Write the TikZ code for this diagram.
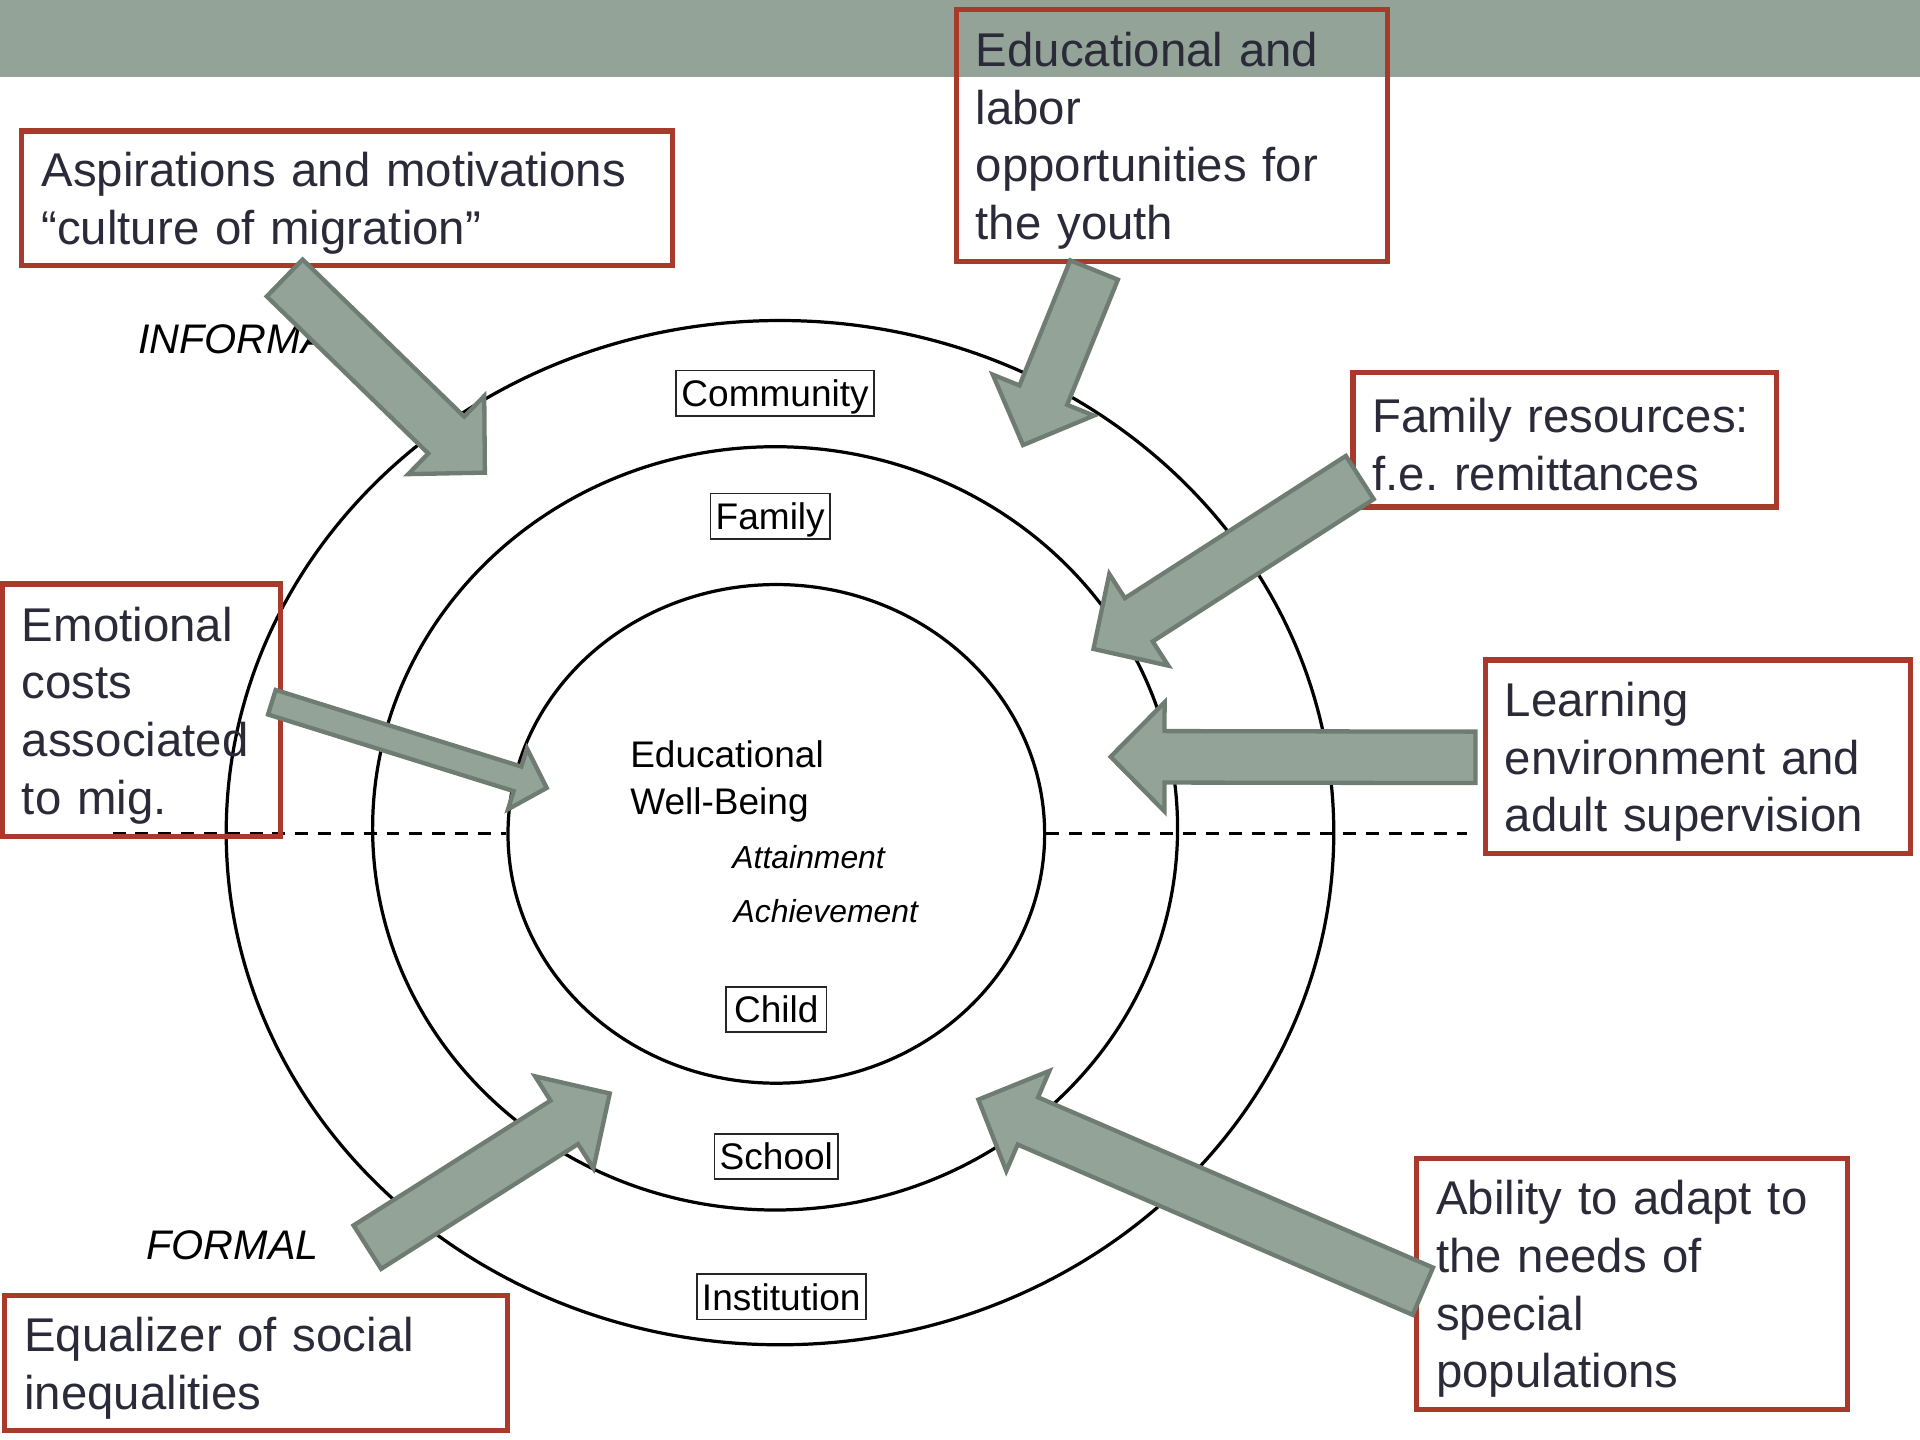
\documentclass[tikz,border=0pt]{standalone}
\usepackage{fontspec}
\setmainfont{Liberation Sans}
\usetikzlibrary{calc,shapes.geometric}

\definecolor{sage}{RGB}{147,163,152}
\definecolor{sagedark}{RGB}{110,124,113}
\definecolor{brick}{RGB}{168,57,43}
\definecolor{ink}{RGB}{42,42,56}

% block arrow: tail, tip, half shaft, half head, head length
\newcommand{\flowarrow}[5]{%
  \draw[force] let \p1 = ($(#2)-(#1)$), \n1 = {atan2(\y1,\x1)} in
    ($(#1)+(\n1+90:#3)$)
    -- ($(#2)+(\n1+180:#5)+(\n1+90:#3)$)
    -- ($(#2)+(\n1+180:#5)+(\n1+90:#4)$)
    -- (#2)
    -- ($(#2)+(\n1+180:#5)+(\n1-90:#4)$)
    -- ($(#2)+(\n1+180:#5)+(\n1-90:#3)$)
    -- ($(#1)+(\n1-90:#3)$) -- cycle;}

\begin{document}
\frenchspacing
\begin{tikzpicture}[x=0.01cm, y=-0.01cm]

	\tikzstyle{factor}=[rectangle, draw=brick, line width=1.2pt, text=ink, align=left, inner xsep=0.16cm, inner ysep=0pt, font=\fontsize{11}{13.4}\selectfont, execute at begin node={\rule{0pt}{10.4pt}}]
	\tikzstyle{level}=[rectangle, draw=black!85, line width=0.4pt, fill=white, inner xsep=1.2pt, inner ysep=0pt, minimum height=0.37cm, text height=7pt, text depth=0.8pt, font=\fontsize{8.6}{10}\selectfont]
	\tikzstyle{ring}=[ellipse, draw, line width=0.75pt, inner sep=0pt]
	\tikzstyle{force}=[fill=sage, draw=sagedark, line width=1pt]
	\tikzstyle{divide}=[line width=0.75pt, dash pattern=on 3pt off 2.3pt]
	\tikzstyle{side}=[anchor=base west, inner sep=0pt, font=\fontsize{9.6}{11}\selectfont\itshape]

	\useasboundingbox (0,0) rectangle (1568,1176);
	\fill[sage] (0,0) rectangle (1568,62.6);

	% Levels
	\node[ring, minimum width=9.04cm, minimum height=8.36cm] (outer) at (637,680) {};
	\node[ring, minimum width=6.57cm, minimum height=6.23cm] (middle) at (633,676.5) {};
	\node[ring, minimum width=4.38cm, minimum height=4.07cm] (inner) at (634,681) {};

	\coordinate (dl) at (92,681);
	\coordinate (dr) at (1198,681);
	\draw[divide] (dl) -- (inner.west);
	\draw[divide] (inner.east) -- (dr);

	\node[level] (community) at (633,321) {Community};
	\node[level] (family) at (629,421.5) {Family};
	\node[level, minimum width=0.82cm] (child) at (634,824.5) {Child};
	\node[level] (school) at (634,944.5) {School};
	\node[level] (institution) at (638,1059) {Institution};

	\node[anchor=west, inner sep=0pt, align=left, font=\fontsize{8.6}{10.9}\selectfont] (ewb) at (514,638.5) {Educational\\Well-Being};
	\node[anchor=base west, inner sep=0pt, font=\fontsize{7.4}{9}\selectfont\itshape] (attain) at (597.5,709) {Attainment};
	\node[anchor=base west, inner sep=0pt, font=\fontsize{7.4}{9}\selectfont\itshape] (achieve) at (598.5,753) {Achievement};

	\node[side] (informal) at (112,288.5) {INFORMAL};
	\node[side] (formal) at (119,1029) {FORMAL};

	% Factors
	\node[factor, text width=4.99cm, minimum height=1.10cm] (asp) at (283.5,162) {Aspirations and motivations\\``culture of migration''};
	\node[factor, text width=3.20cm, minimum height=2.055cm] (opp) at (957,110.75) {Educational and\\labor\\opportunities for\\the youth};
	\node[factor, text width=3.14cm, minimum height=1.10cm] (fam) at (1278,359) {Family resources:\\f.e. remittances};
	\node[factor, text width=1.95cm, minimum height=2.06cm] (emo) at (115.5,580) {Emotional\\costs\\associated\\to mig.};
	\node[factor, text width=3.15cm, minimum height=1.58cm] (lrn) at (1386.5,618) {Learning\\environment and\\adult supervision};
	\node[factor, text width=3.78cm, minimum height=1.10cm] (equ) at (209,1113) {Equalizer of social\\inequalities};
	\node[factor, text width=3.20cm, minimum height=2.05cm] (abl) at (1333,1048.5) {Ability to adapt to\\the needs of\\special\\populations};

	% Influences
	\coordinate (aspT) at (232.5,227);   \coordinate (aspH) at (396,386);
	\coordinate (oppT) at (893.5,220.5); \coordinate (oppH) at (835.5,363.5);
	\coordinate (famT) at (1110.5,390);  \coordinate (famH) at (893,530);
	\coordinate (lrnT) at (1205,618.5);  \coordinate (lrnH) at (907,618);
	\coordinate (emoT) at (222,573.5);   \coordinate (emoH) at (446.5,643.5);
	\coordinate (equT) at (300,1018.5);  \coordinate (equH) at (498,893);
	\coordinate (ablT) at (1162,1054.5); \coordinate (ablH) at (799,898);

	\flowarrow{aspT}{aspH}{0.21cm}{0.445cm}{0.44cm}
	\flowarrow{oppT}{oppH}{0.21cm}{0.445cm}{0.44cm}
	\flowarrow{famT}{famH}{0.21cm}{0.445cm}{0.44cm}
	\flowarrow{lrnT}{lrnH}{0.21cm}{0.445cm}{0.44cm}
	\flowarrow{emoT}{emoH}{0.105cm}{0.26cm}{0.25cm}
	\flowarrow{equT}{equH}{0.21cm}{0.445cm}{0.44cm}
	\flowarrow{ablT}{ablH}{0.21cm}{0.445cm}{0.44cm}

\end{tikzpicture}
\end{document}
